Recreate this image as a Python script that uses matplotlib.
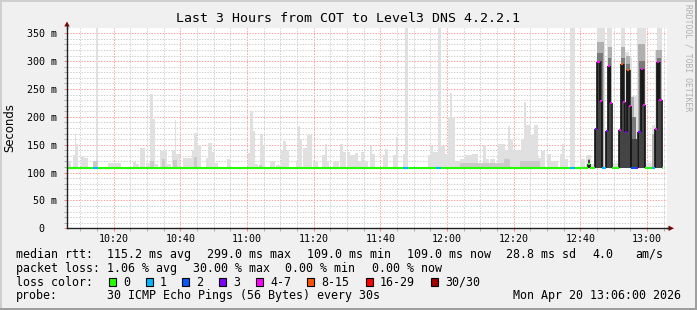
import matplotlib
matplotlib.use("Agg")
import matplotlib.pyplot as plt
from matplotlib.patches import Rectangle, Polygon
from matplotlib.lines import Line2D

W, H = 697, 310
MONO = "DejaVu Sans Mono"

# time axis in minutes after 10:06, values in ms
# light smoke (outer pings): start, end, top
smoke_light = [
    (0.2, 1.2, 121), (1.8, 2.4, 132), (2.4, 2.8, 170), (2.8, 3.4, 151), (4.2, 5.2, 130),
    (5.2, 6.4, 127), (7.8, 8.6, 120), (8.6, 9.2, 360), (12.2, 16.2, 117), (19.9, 20.6, 119),
    (20.6, 21.5, 116), (22.0, 23.4, 144), (23.8, 24.9, 118), (24.9, 25.7, 241), (25.7, 26.4, 196),
    (26.4, 27.2, 115), (27.9, 29.9, 139), (29.9, 31.2, 115), (31.6, 32.4, 141), (32.4, 32.8, 194),
    (32.8, 33.9, 134), (34.9, 37.4, 127), (37.4, 38.2, 140), (38.2, 38.9, 171), (38.9, 40.2, 150),
    (41.6, 42.4, 127), (42.4, 43.4, 153), (43.4, 44.4, 137), (44.4, 45.4, 118), (47.9, 49.0, 124),
    (54.2, 54.9, 136), (54.9, 55.7, 211), (55.7, 56.4, 175), (56.4, 57.4, 115), (58.0, 58.8, 170),
    (58.8, 59.4, 149), (60.9, 62.4, 120), (62.7, 63.9, 113), (64.2, 64.9, 140), (64.9, 65.8, 156),
    (65.8, 66.6, 140), (68.6, 69.2, 121), (69.2, 69.8, 184), (69.8, 70.6, 159), (70.9, 71.9, 144),
    (71.9, 73.4, 168), (73.9, 75.4, 121), (76.6, 77.4, 132), (77.4, 78.0, 151), (78.0, 78.6, 121),
    (79.7, 81.7, 121), (81.9, 82.7, 151), (82.7, 83.6, 137), (83.9, 84.9, 137), (84.9, 86.4, 132),
    (86.4, 87.4, 136), (87.4, 88.2, 121), (88.2, 89.0, 137), (89.0, 90.4, 120), (90.9, 91.6, 147),
    (91.6, 92.4, 133), (94.9, 95.4, 132), (95.4, 96.2, 142), (97.9, 98.6, 132), (98.6, 99.2, 163),
    (100.7, 101.4, 133), (101.4, 102.3, 360), (108.4, 109.1, 132), (109.1, 109.9, 147),
    (109.9, 111.2, 137), (111.2, 112.1, 360), (112.1, 113.4, 147), (113.4, 114.4, 133),
    (114.4, 115.0, 199), (115.0, 115.6, 242), (115.6, 116.4, 199), (116.4, 117.9, 120),
    (117.9, 119.4, 124), (119.4, 121.4, 132), (121.4, 123.4, 134), (124.9, 125.6, 149),
    (125.6, 126.6, 124), (126.9, 128.4, 124), (129.2, 131.4, 151), (131.4, 132.4, 140),
    (132.4, 133.0, 184), (133.0, 133.9, 159), (133.9, 135.4, 140), (135.4, 136.2, 140),
    (136.2, 137.2, 160), (137.2, 137.8, 226), (137.8, 138.9, 185), (138.9, 140.2, 168),
    (140.2, 141.4, 185), (141.4, 142.2, 126), (142.2, 143.4, 139), (143.9, 145.2, 133),
    (145.2, 147.4, 121), (147.9, 148.4, 134), (148.4, 149.0, 151), (149.0, 150.4, 124),
    (150.9, 152.4, 360), (153.9, 155.4, 124), (155.6, 157.2, 131), (157.2, 158.4, 115),
    (158.4, 159.1, 180), (159.1, 161.5, 360), (161.5, 162.1, 175), (162.1, 163.4, 360),
    (163.4, 165.6, 118), (165.6, 166.1, 176), (166.1, 167.5, 360), (167.5, 168.7, 316),
    (168.7, 169.6, 305), (169.6, 170.9, 237), (170.9, 173.6, 360), (173.6, 175.4, 118),
    (175.4, 176.4, 185), (176.4, 177.0, 320), (177.0, 178.4, 360),
]
smoke_light_base = 108

# slightly darker smoke near the median: start, end, low, high
smoke_shade = [
    (7.8, 9.2, 109, 120), (25.0, 26.0, 109, 120), (28.5, 29.5, 109, 125), (31.8, 33.0, 109, 122),
    (38.0, 39.0, 109, 128), (57.5, 58.5, 109, 114), (118.0, 131.0, 109, 118),
    (131.0, 133.0, 109, 125), (136.0, 142.0, 109, 120),
]

# medium smoke in the congested part
smoke_mid = [
    (156.2, 157.0, 109, 125), (159.1, 161.2, 109, 335), (162.2, 163.4, 109, 325),
    (166.2, 167.4, 109, 325), (167.6, 168.8, 109, 310), (168.8, 170.2, 109, 235),
    (171.4, 173.4, 109, 330), (175.6, 176.4, 109, 170), (176.8, 178.4, 109, 320),
]

# dark-medium smoke close to the median
smoke_mid2 = [
    (159.1, 160.8, 109, 315), (162.3, 163.3, 109, 305), (166.2, 167.4, 109, 305),
    (167.8, 169.0, 109, 295), (169.2, 170.6, 109, 200), (171.6, 173.4, 109, 300),
    (176.9, 178.3, 109, 305),
]

# dark smoke around the median
smoke_dark = [
    (156.4, 156.9, 110, 122), (158.4, 159.1, 109, 179), (159.1, 160.5, 109, 300),
    (161.6, 162.3, 109, 175), (162.3, 163.2, 109, 292), (165.6, 166.2, 109, 176),
    (166.2, 167.4, 109, 295), (167.4, 168.0, 109, 173), (168.0, 169.2, 109, 285),
    (169.2, 170.9, 109, 160), (171.4, 172.1, 109, 173), (172.1, 173.4, 109, 286),
    (176.4, 177.0, 109, 178), (177.0, 178.2, 109, 299),
]

# median rtt: start, end, value, loss bucket
median_rtt = [
    (0.0, 7.8, 109, 0), (7.8, 9.2, 109, 1), (9.2, 100.7, 109, 0), (100.7, 102.2, 109, 1),
    (102.2, 110.7, 109, 0), (110.7, 112.2, 109, 1), (112.2, 150.9, 109, 0), (150.9, 152.4, 109, 1),
    (152.4, 156.2, 109, 0), (156.2, 156.9, 116, 0), (156.9, 158.4, 109, 0),
    (158.4, 159.1, 178, 3), (159.1, 159.8, 299, 4), (159.8, 160.5, 228, 4), (160.5, 161.6, 109, 1),
    (161.6, 162.3, 175, 3), (162.3, 162.9, 292, 4), (162.9, 163.4, 224, 4), (163.4, 165.6, 109, 0),
    (165.6, 166.2, 176, 4), (166.2, 166.8, 295, 5), (166.8, 167.4, 226, 4),
    (167.4, 168.0, 173, 3), (168.0, 168.6, 285, 5), (168.6, 169.2, 220, 4),
    (169.2, 170.7, 109, 2), (170.7, 171.4, 109, 3),
    (171.4, 172.1, 173, 3), (172.1, 172.7, 286, 4), (172.7, 173.4, 221, 4),
    (173.4, 175.4, 109, 0), (175.4, 176.4, 109, 1),
    (176.4, 177.0, 178, 4), (177.0, 177.7, 299, 4), (177.7, 178.4, 230, 4), (178.4, 178.9, 109, 0),
]

loss_labels = ["0", "1", "2", "3", "4-7", "8-15", "16-29", "30/30"]
loss_colors = ["#26ff00", "#00b8ff", "#0059ff", "#7e00ff", "#ff00ff", "#ff5500", "#ff0000", "#a10000"]

time_labels = ["10:20", "10:40", "11:00", "11:20", "11:40", "12:00", "12:20", "12:40", "13:00"]
y_labels = ["0  ", "50 m", "100 m", "150 m", "200 m", "250 m", "300 m", "350 m"]

title = "Last 3 Hours from COT to Level3 DNS 4.2.2.1"
rtt_stats = ["115.2 ms avg", "299.0 ms max", "109.0 ms min", "109.0 ms now", "28.8 ms sd", "4.0", "am/s"]
loss_stats = ["1.06 % avg", "30.00 % max", "0.00 % min", "0.00 % now"]
probe_text = "30 ICMP Echo Pings (56 Bytes) every 30s"
stamp_text = "Mon Apr 20 13:06:00 2026"


def fx(px):
    return px / W


def fy(py):
    return 1 - py / H


fig = plt.figure(figsize=(W / 100, H / 100), dpi=100)
fig.patch.set_facecolor("#f0f0f0")

# frame shading
fig.add_artist(Rectangle((0, fy(2)), 1, fy(0) - fy(2), transform=fig.transFigure, color="#cfcfcf", lw=0))
fig.add_artist(Rectangle((0, 0), fx(2), 1, transform=fig.transFigure, color="#cfcfcf", lw=0))
fig.add_artist(Rectangle((0, 0), 1, 2 / H, transform=fig.transFigure, color="#9e9e9e", lw=0))
fig.add_artist(Rectangle((fx(W - 2), 0), fx(2), 1, transform=fig.transFigure, color="#9e9e9e", lw=0))

L, R, T, B = 67, 667, 28, 228.3
ax = fig.add_axes([fx(L), fy(B), fx(R) - fx(L), fy(T) - fy(B)])
ax.set_facecolor("white")
ax.set_xlim(0, 180)
ax.set_ylim(0, 359.5)

# smoke
for t0, t1, top in smoke_light:
    ax.bar(t0, top - smoke_light_base, width=t1 - t0, bottom=smoke_light_base, align="edge",
           color="#e0e0e0", lw=0, zorder=2)
layers = [(smoke_shade, "#cacaca", 3), (smoke_mid, "#b0b0b0", 4),
          (smoke_mid2, "#7a7a7a", 5), (smoke_dark, "#444444", 6)]
for layer, col, z in layers:
    for t0, t1, lo, hi in layer:
        ax.bar(t0, hi - lo, width=t1 - t0, bottom=lo, align="edge", color=col, lw=0, zorder=z)

# median: vertical joins then coloured segments
for a, b in zip(median_rtt[:-1], median_rtt[1:]):
    if a[2] != b[2]:
        ax.vlines(b[0], min(a[2], b[2]), max(a[2], b[2]), color="#111111", lw=1.2, zorder=7)
for t0, t1, v, k in median_rtt:
    ax.hlines(v, t0, t1, color=loss_colors[k], lw=1.5, zorder=8)

# grid and ticks
major_x = [14 + 20 * i for i in range(len(time_labels))]
minor_x = [4 + 5 * i for i in range(36)]
ax.set_xticks(major_x)
ax.set_xticklabels(time_labels)
ax.set_xticks(minor_x, minor=True)
ax.set_yticks([50 * i for i in range(len(y_labels))])
ax.set_yticklabels(y_labels)
ax.set_yticks(list(range(0, 360, 10)), minor=True)
ax.set_axisbelow(True)
ax.grid(which="minor", color="#d0d0d0", lw=0.72, linestyle=(0, (1.4, 1.4)))
ax.grid(which="major", color="#ffa0a0", lw=0.72, linestyle=(0, (1.4, 1.4)))
ax.tick_params(which="both", direction="out", length=2, width=0.72)
ax.tick_params(which="major", color="#ff8080")
ax.tick_params(which="minor", color="#b0b0b0")
ax.tick_params(axis="x", pad=2, labelsize=7.2)
ax.tick_params(axis="y", pad=5, labelsize=7.2)
for lab in ax.get_xticklabels() + ax.get_yticklabels():
    lab.set_family(MONO)
for s in ["top", "right"]:
    ax.spines[s].set_visible(False)
for s in ["left", "bottom"]:
    ax.spines[s].set_color("#212121")
    ax.spines[s].set_linewidth(1)
    ax.spines[s].set_zorder(9)

# axis extensions and arrows
fig.add_artist(Line2D([fx(L), fx(L)], [fy(T), fy(26)], transform=fig.transFigure, color="#212121", lw=1))
fig.add_artist(Line2D([fx(R), fx(668.5)], [fy(B), fy(B)], transform=fig.transFigure, color="#212121", lw=1))
fig.add_artist(Polygon([(fx(L), fy(21.5)), (fx(L - 2.7), fy(26.5)), (fx(L + 2.7), fy(26.5))],
                       transform=fig.transFigure, color="#800000", lw=0))
fig.add_artist(Polygon([(fx(674), fy(B)), (fx(668.5), fy(B - 2.7)), (fx(668.5), fy(B + 2.7))],
                       transform=fig.transFigure, color="#800000", lw=0))

# texts
fig.text(fx(348), fy(19), title, ha="center", va="center", family=MONO, fontsize=9.5)
fig.text(fx(10), fy(127.5), "Seconds", rotation=90, ha="center", va="center",
         family="DejaVu Sans", fontsize=8.4)
fig.text(fx(688), fy(58), "RRDTOOL / TOBI OETIKER", rotation=270, ha="center", va="center",
         family=MONO, fontsize=5.8, color="#b0b0b0")

fs = 8.4
row_y = [254.3, 268.3, 282.3, 296]
fig.text(fx(16), fy(row_y[0]), "median rtt:", va="center", family=MONO, fontsize=fs)
for s, x in zip(rtt_stats, [107, 207, 307, 407, 506, 592.7, 635]):
    fig.text(fx(x), fy(row_y[0]), s, va="center", family=MONO, fontsize=fs)
fig.text(fx(16), fy(row_y[1]), "packet loss:", va="center", family=MONO, fontsize=fs)
for s, x in zip(loss_stats, [107, 193.3, 285, 372]):
    fig.text(fx(x), fy(row_y[1]), s, va="center", family=MONO, fontsize=fs)
fig.text(fx(16), fy(row_y[2]), "loss color:", va="center", family=MONO, fontsize=fs)
for lab, col, x in zip(loss_labels, loss_colors, [108.7, 145.7, 182, 219, 255.7, 307, 365.7, 431]):
    fig.add_artist(Rectangle((fx(x), fy(285.7)), fx(7.3), 7.3 / H, transform=fig.transFigure,
                             facecolor=col, edgecolor="black", lw=0.8))
    fig.text(fx(x + 14.3), fy(row_y[2]), lab, va="center", family=MONO, fontsize=fs)
fig.text(fx(16), fy(row_y[3]), "probe:", va="center", family=MONO, fontsize=fs)
fig.text(fx(107), fy(row_y[3]), probe_text, va="center", family=MONO, fontsize=fs)
fig.text(fx(512.7), fy(row_y[3]), stamp_text, va="center", family=MONO, fontsize=fs)

fig.savefig("out.png", dpi=100, facecolor=fig.get_facecolor())
